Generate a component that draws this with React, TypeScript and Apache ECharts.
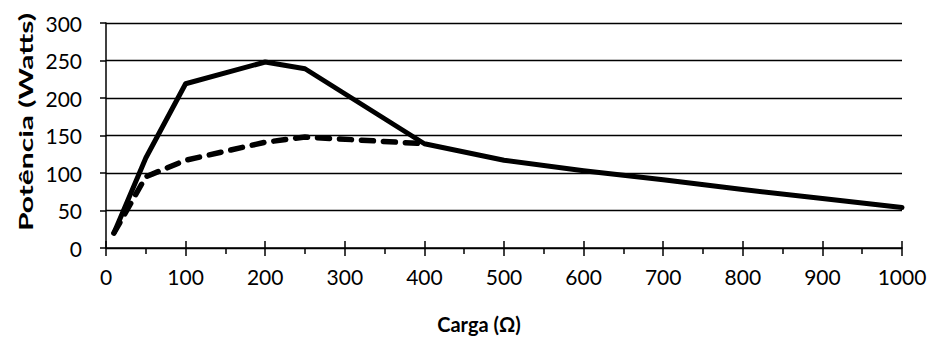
import React, { useEffect, useRef } from "react";
import * as echarts from "echarts";

const xAxisMin = 0;
const xAxisMax = 1000;
const xAxisStep = 100;
const yAxisMin = 0;
const yAxisMax = 300;
const yAxisStep = 50;

const solidLoadOhms = [10, 50, 100, 200, 250, 400, 500, 600, 700, 800, 900, 1000];
const solidWatts = [20, 120, 219, 248, 239, 139, 117, 103, 91, 78, 66, 54];

const dashedLoadOhms = [10, 50, 100, 200, 250, 400];
const dashedWatts = [20, 95, 117, 141, 148, 139];

const xTitle = "Carga (Ω)";
const yTitle = "Potência (Watts)";

const FONT = "Lato, 'Open Sans', sans-serif";

export default function App() {
  const ref = useRef<HTMLDivElement>(null);
  useEffect(() => {
    document.body.style.margin = "0";
    const chart = echarts.init(ref.current!, undefined, { renderer: "svg" });
    const solid = solidLoadOhms.map((x, i) => [x, solidWatts[i]]);
    const dashed = dashedLoadOhms.map((x, i) => [x, dashedWatts[i]]);
    chart.setOption({
      animation: false,
      backgroundColor: "#ffffff",
      grid: { left: 106, right: 30, top: 23, bottom: 94, containLabel: false },
      graphic: [
        {
          type: "text",
          x: 25,
          y: 122,
          rotation: Math.PI / 2,
          scaleX: 1.58,
          scaleY: 1,
          style: {
            text: yTitle,
            font: `bold 19px ${FONT}`,
            fill: "#000",
            align: "center",
            verticalAlign: "middle",
          },
        },
      ],
      xAxis: [
        {
          type: "value",
          min: xAxisMin,
          max: xAxisMax,
          interval: xAxisStep,
          position: "bottom",
          name: xTitle,
          nameLocation: "middle",
          nameGap: 66,
          nameTextStyle: {
            fontFamily: FONT,
            fontWeight: "bold",
            fontSize: 20,
            color: "#000",
            padding: [0, 50, 0, 0],
          },
          axisLine: { show: true, lineStyle: { color: "#000", width: 1.5 } },
          axisTick: { show: true, inside: false, length: 8, lineStyle: { color: "#000", width: 1.5 } },
          minorTick: { show: true, splitNumber: 2, length: 6, lineStyle: { color: "#000", width: 1.5 } },
          splitLine: { show: false },
          axisLabel: {
            fontFamily: FONT,
            fontSize: 21,
            color: "#000",
            margin: 18,
            formatter: (v: number) => String(v),
          },
        },
        {
          type: "value",
          min: xAxisMin,
          max: xAxisMax,
          interval: xAxisStep,
          position: "bottom",
          offset: 0,
          axisLine: { show: false },
          axisTick: { show: true, inside: true, length: 7, lineStyle: { color: "#000", width: 1.5 } },
          splitLine: { show: false },
          axisLabel: { show: false },
        },
      ],
      yAxis: {
        type: "value",
        min: yAxisMin,
        max: yAxisMax,
        interval: yAxisStep,
        axisLine: { show: true, lineStyle: { color: "#000", width: 1.5 } },
        axisTick: { show: true, inside: false, length: 6, lineStyle: { color: "#000", width: 1.5 } },
        splitLine: { show: true, lineStyle: { color: "#000", width: 1.4 } },
        axisLabel: { fontFamily: FONT, fontSize: 21, color: "#000", margin: 24 },
      },
      series: [
        {
          type: "line",
          data: solid,
          xAxisIndex: 0,
          showSymbol: false,
          symbol: "none",
          lineStyle: { color: "#000", width: 5, join: "round", cap: "round" },
        },
        {
          type: "line",
          data: dashed,
          xAxisIndex: 0,
          showSymbol: false,
          symbol: "none",
          lineStyle: { color: "#000", width: 5.5, type: [12, 10], cap: "round", join: "round" },
        },
      ],
    });
    return () => chart.dispose();
  }, []);
  return <div ref={ref} style={{ width: 932, height: 342 }} />;
}
